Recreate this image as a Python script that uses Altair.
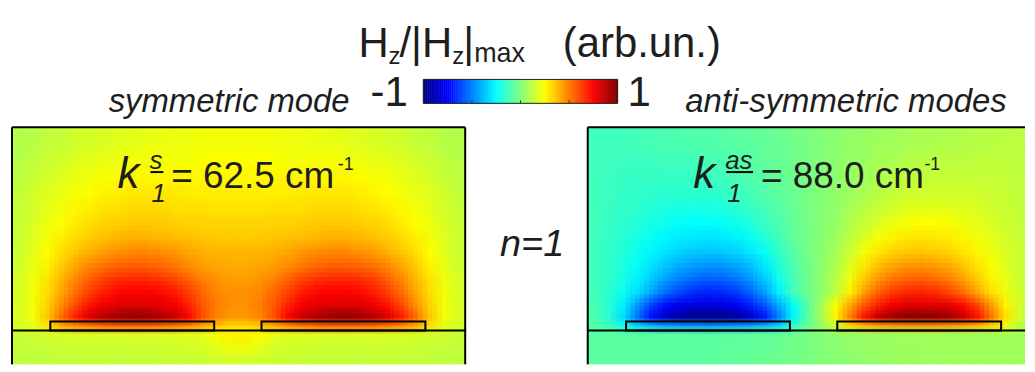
import altair as alt
import numpy as np
import pandas as pd

# ---------------- data ----------------
# Hz/|Hz|max, rows top (y=204) to bottom (y=-34), 32 columns left->right
sym_field = [
    [0.10,0.11,0.13,0.14,0.16,0.17,0.18,0.19,0.20,0.21,0.21,0.22,0.22,0.23,0.23,0.23, 0.23,0.23,0.23,0.22,0.22,0.21,0.21,0.20,0.19,0.18,0.17,0.16,0.14,0.13,0.11,0.10],
    [0.11,0.13,0.15,0.17,0.19,0.20,0.21,0.22,0.23,0.24,0.24,0.24,0.24,0.25,0.25,0.25, 0.25,0.25,0.25,0.24,0.24,0.24,0.24,0.23,0.22,0.21,0.20,0.19,0.17,0.15,0.13,0.11],
    [0.12,0.14,0.17,0.19,0.21,0.23,0.24,0.25,0.26,0.26,0.26,0.26,0.26,0.26,0.26,0.26, 0.26,0.26,0.26,0.26,0.26,0.26,0.26,0.26,0.25,0.24,0.23,0.21,0.19,0.17,0.14,0.12],
    [0.13,0.16,0.19,0.21,0.23,0.25,0.27,0.28,0.29,0.29,0.29,0.29,0.28,0.28,0.28,0.28, 0.28,0.28,0.28,0.28,0.29,0.29,0.29,0.29,0.28,0.27,0.25,0.23,0.21,0.19,0.16,0.13],
    [0.14,0.17,0.20,0.23,0.26,0.28,0.30,0.31,0.32,0.32,0.32,0.31,0.31,0.31,0.30,0.30, 0.30,0.30,0.31,0.31,0.31,0.32,0.32,0.32,0.31,0.30,0.28,0.26,0.23,0.20,0.17,0.14],
    [0.14,0.18,0.22,0.25,0.28,0.31,0.33,0.34,0.35,0.35,0.35,0.34,0.33,0.33,0.33,0.33, 0.33,0.33,0.33,0.33,0.34,0.35,0.35,0.35,0.34,0.33,0.31,0.28,0.25,0.22,0.18,0.14],
    [0.15,0.19,0.23,0.28,0.32,0.35,0.37,0.39,0.40,0.40,0.39,0.38,0.37,0.36,0.35,0.35, 0.35,0.35,0.36,0.37,0.38,0.39,0.40,0.40,0.39,0.37,0.35,0.32,0.28,0.23,0.19,0.15],
    [0.15,0.20,0.25,0.31,0.36,0.40,0.44,0.46,0.48,0.48,0.47,0.45,0.42,0.40,0.39,0.39, 0.39,0.39,0.40,0.42,0.45,0.47,0.48,0.48,0.46,0.44,0.40,0.36,0.31,0.25,0.20,0.15],
    [0.16,0.21,0.27,0.35,0.42,0.48,0.52,0.55,0.56,0.56,0.54,0.51,0.47,0.44,0.42,0.41, 0.41,0.42,0.44,0.47,0.51,0.54,0.56,0.56,0.55,0.52,0.48,0.42,0.35,0.27,0.21,0.16],
    [0.17,0.22,0.30,0.39,0.48,0.56,0.62,0.66,0.67,0.67,0.65,0.61,0.55,0.49,0.46,0.44, 0.44,0.46,0.49,0.55,0.61,0.65,0.67,0.67,0.66,0.62,0.56,0.48,0.39,0.30,0.22,0.17],
    [0.17,0.23,0.31,0.42,0.53,0.62,0.69,0.73,0.75,0.75,0.73,0.69,0.62,0.54,0.48,0.46, 0.46,0.48,0.54,0.62,0.69,0.73,0.75,0.75,0.73,0.69,0.62,0.53,0.42,0.31,0.23,0.17],
    [0.18,0.23,0.33,0.47,0.60,0.71,0.77,0.80,0.81,0.81,0.79,0.76,0.68,0.57,0.50,0.46, 0.46,0.50,0.57,0.68,0.76,0.79,0.81,0.81,0.80,0.77,0.71,0.60,0.47,0.33,0.23,0.18],
    [0.18,0.23,0.36,0.53,0.69,0.81,0.89,0.93,0.95,0.94,0.91,0.85,0.74,0.59,0.49,0.45, 0.45,0.49,0.59,0.74,0.85,0.91,0.94,0.95,0.93,0.89,0.81,0.69,0.53,0.36,0.23,0.18],
    [0.17,0.20,0.30,0.42,0.48,0.52,0.55,0.56,0.57,0.56,0.55,0.52,0.48,0.42,0.36,0.32, 0.32,0.36,0.42,0.48,0.52,0.55,0.56,0.57,0.56,0.55,0.52,0.48,0.42,0.30,0.20,0.17],
    [0.14,0.15,0.16,0.17,0.17,0.18,0.18,0.18,0.18,0.18,0.18,0.18,0.19,0.20,0.24,0.27, 0.27,0.24,0.20,0.19,0.18,0.18,0.18,0.18,0.18,0.18,0.18,0.17,0.17,0.16,0.15,0.14],
    [0.13,0.14,0.14,0.15,0.15,0.15,0.15,0.15,0.15,0.15,0.15,0.16,0.16,0.17,0.20,0.22, 0.22,0.20,0.17,0.16,0.16,0.15,0.15,0.15,0.15,0.15,0.15,0.15,0.15,0.14,0.14,0.13],
    [0.12,0.13,0.13,0.14,0.14,0.14,0.14,0.14,0.14,0.14,0.14,0.14,0.15,0.15,0.16,0.17, 0.17,0.16,0.15,0.15,0.14,0.14,0.14,0.14,0.14,0.14,0.14,0.14,0.14,0.13,0.13,0.12],
]

asym_field = [
    [-0.12,-0.12,-0.12,-0.11,-0.11,-0.10,-0.10,-0.09,-0.09,-0.08,-0.07,-0.06,-0.05,-0.04,-0.02,-0.01, 0.01,0.02,0.04,0.05,0.06,0.07,0.08,0.09,0.09,0.10,0.10,0.11,0.11,0.12,0.12,0.12],
    [-0.12,-0.12,-0.13,-0.13,-0.13,-0.12,-0.12,-0.12,-0.11,-0.10,-0.09,-0.08,-0.06,-0.05,-0.03,-0.01, 0.01,0.03,0.05,0.06,0.08,0.09,0.10,0.11,0.12,0.12,0.12,0.13,0.13,0.13,0.12,0.12],
    [-0.12,-0.13,-0.14,-0.14,-0.14,-0.14,-0.14,-0.14,-0.13,-0.12,-0.11,-0.09,-0.07,-0.05,-0.03,-0.01, 0.01,0.03,0.05,0.07,0.09,0.11,0.12,0.13,0.14,0.14,0.14,0.14,0.14,0.14,0.13,0.12],
    [-0.12,-0.13,-0.14,-0.15,-0.16,-0.16,-0.16,-0.16,-0.16,-0.15,-0.13,-0.11,-0.09,-0.06,-0.04,-0.01, 0.01,0.04,0.06,0.09,0.11,0.13,0.15,0.16,0.16,0.16,0.16,0.16,0.15,0.14,0.13,0.12],
    [-0.12,-0.13,-0.15,-0.16,-0.18,-0.19,-0.20,-0.20,-0.20,-0.19,-0.17,-0.14,-0.11,-0.08,-0.04,-0.01, 0.01,0.04,0.08,0.11,0.14,0.17,0.19,0.20,0.20,0.20,0.19,0.18,0.16,0.15,0.13,0.12],
    [-0.12,-0.14,-0.16,-0.18,-0.20,-0.22,-0.24,-0.25,-0.25,-0.24,-0.22,-0.18,-0.14,-0.10,-0.05,-0.02, 0.02,0.05,0.10,0.14,0.18,0.22,0.24,0.25,0.25,0.24,0.22,0.20,0.18,0.16,0.14,0.12],
    [-0.12,-0.14,-0.17,-0.20,-0.23,-0.26,-0.28,-0.29,-0.30,-0.29,-0.27,-0.23,-0.18,-0.12,-0.06,-0.02, 0.02,0.06,0.12,0.18,0.23,0.27,0.29,0.30,0.29,0.28,0.26,0.23,0.20,0.17,0.14,0.12],
    [-0.12,-0.15,-0.18,-0.22,-0.26,-0.30,-0.33,-0.35,-0.36,-0.35,-0.33,-0.29,-0.23,-0.15,-0.08,-0.02, 0.02,0.08,0.15,0.23,0.29,0.33,0.35,0.36,0.35,0.33,0.30,0.26,0.22,0.18,0.15,0.12],
    [-0.12,-0.15,-0.19,-0.24,-0.30,-0.36,-0.41,-0.44,-0.46,-0.45,-0.42,-0.37,-0.29,-0.19,-0.09,-0.03, 0.03,0.09,0.19,0.29,0.37,0.42,0.45,0.46,0.44,0.41,0.36,0.30,0.24,0.19,0.15,0.12],
    [-0.12,-0.15,-0.20,-0.27,-0.35,-0.43,-0.50,-0.54,-0.56,-0.55,-0.52,-0.45,-0.35,-0.22,-0.11,-0.03, 0.03,0.11,0.22,0.35,0.45,0.52,0.55,0.56,0.54,0.50,0.43,0.35,0.27,0.20,0.15,0.12],
    [-0.12,-0.16,-0.22,-0.31,-0.42,-0.53,-0.61,-0.66,-0.68,-0.67,-0.63,-0.55,-0.43,-0.27,-0.12,-0.03, 0.03,0.12,0.27,0.43,0.55,0.63,0.67,0.68,0.66,0.61,0.53,0.42,0.31,0.22,0.16,0.12],
    [-0.10,-0.17,-0.27,-0.44,-0.61,-0.72,-0.78,-0.80,-0.81,-0.80,-0.76,-0.68,-0.57,-0.41,-0.24,-0.08, 0.08,0.24,0.41,0.57,0.68,0.76,0.80,0.81,0.80,0.78,0.72,0.61,0.44,0.27,0.17,0.10],
    [-0.10,-0.17,-0.31,-0.52,-0.72,-0.85,-0.93,-0.96,-0.97,-0.96,-0.93,-0.85,-0.70,-0.49,-0.26,-0.08, 0.08,0.26,0.49,0.70,0.85,0.93,0.96,0.97,0.96,0.93,0.85,0.72,0.52,0.31,0.17,0.10],
    [-0.08,-0.12,-0.22,-0.32,-0.38,-0.42,-0.44,-0.45,-0.45,-0.45,-0.44,-0.42,-0.38,-0.32,-0.15,-0.05, 0.05,0.15,0.32,0.38,0.42,0.44,0.45,0.45,0.45,0.44,0.42,0.38,0.32,0.22,0.12,0.08],
    [-0.07,-0.07,-0.07,-0.07,-0.07,-0.07,-0.07,-0.07,-0.07,-0.07,-0.06,-0.06,-0.05,-0.04,-0.03,-0.01, 0.01,0.03,0.04,0.05,0.06,0.06,0.07,0.07,0.07,0.07,0.07,0.07,0.07,0.07,0.07,0.07],
    [-0.07,-0.07,-0.07,-0.07,-0.07,-0.07,-0.07,-0.07,-0.07,-0.06,-0.06,-0.05,-0.05,-0.04,-0.02,-0.01, 0.01,0.02,0.04,0.05,0.05,0.06,0.06,0.07,0.07,0.07,0.07,0.07,0.07,0.07,0.07,0.07],
    [-0.07,-0.07,-0.07,-0.07,-0.07,-0.07,-0.07,-0.07,-0.06,-0.06,-0.06,-0.05,-0.04,-0.03,-0.02,-0.01, 0.01,0.02,0.03,0.04,0.05,0.06,0.06,0.06,0.07,0.07,0.07,0.07,0.07,0.07,0.07,0.07],
]

# grid of the field samples (panel coordinates, substrate surface at y = 0)
x_edges = [float(v) for v in np.linspace(-227, 228, 33)]
y_edges = [204, 180, 162, 146, 130, 115, 100, 86, 72, 58, 45, 32, 20, 9, 0, -12, -24, -34]

# metal strips on the substrate
strip_x0 = [-188.5, 23.5]
strip_x1 = [-24.0, 188.0]
strip_y0 = [0.0, 0.0]
strip_y1 = [9.0, 9.0]
substrate_y = [0.0]

# colour bar
cbar_levels = [float(v) for v in np.linspace(-1, 1, 97)]
cbar_ticks = [-0.5, 0.0, 0.5]
jet_domain = [-1.0, -0.75, -0.25, 0.25, 0.75, 1.0]
jet_range = ["#00007f", "#0000ff", "#00ffff", "#ffff00", "#ff0000", "#7f0000"]

# texts
title_parts = ["H", "z", "/|H", "z", "|", "max", "(arb.un.)"]
cbar_min_label = "-1"
cbar_max_label = "1"
left_caption = "symmetric mode"
right_caption = "anti-symmetric modes"
k_sym = ["k", "s", "1", "= 62.5 cm", "-1"]
k_asym = ["k", "as", "1", "= 88.0 cm", "-1"]
order_label = "n=1"

# ---------------- chart ----------------
FONT = "Liberation Sans, Arial, sans-serif"
INK = "#1e1e1e"
LEFT_W, RIGHT_W, PANEL_H = 455, 439, 238
# sub-cell shifts used to shade the cells smoothly (each copy blended with equal weight)
SHADE_SHIFTS = [(0.0, 0.0), (-1/3, 0.0), (1/3, 0.0), (0.0, -1/3), (0.0, 1/3),
                (-1/3, -1/3), (1/3, -1/3), (-1/3, 1/3), (1/3, 1/3)]

cscale = alt.Scale(domain=jet_domain, range=jet_range, interpolate="rgb", clamp=True)
ys = alt.Scale(domain=[-34, 204], nice=False, zero=False)
dummy = pd.DataFrame({"d": [0]})


def label(txt, x, y, size, italic=False, align="left"):
    return alt.Chart(pd.DataFrame({"t": [txt]})).mark_text(
        align=align, baseline="alphabetic", fontSize=size, font=FONT,
        fontStyle="italic" if italic else "normal", color=INK
    ).encode(text="t:N", x=alt.value(x), y=alt.value(y))


def hline(x0, x1, y, w=2):
    return alt.Chart(dummy).mark_rule(color="black", strokeWidth=w).encode(
        x=alt.value(x0), x2=alt.value(x1), y=alt.value(y))


def vline(x, y0, y1, w=2):
    return alt.Chart(dummy).mark_rule(color="black", strokeWidth=w).encode(
        x=alt.value(x), y=alt.value(y0), y2=alt.value(y1))


def field_frame(field):
    rows = []
    for r, row in enumerate(field):
        for c, v in enumerate(row):
            rows.append({"x0": x_edges[c], "x1": x_edges[c + 1],
                         "y0": y_edges[r + 1], "y1": y_edges[r], "v": v})
    return pd.DataFrame(rows)


def heat_layers(frame, xs):
    out = []
    for k, (fx, fy) in enumerate(SHADE_SHIFTS):
        ch = alt.Chart(frame).transform_calculate(
            a=f"datum.x0 + ({fx})*(datum.x1 - datum.x0)",
            b=f"datum.x1 + ({fx})*(datum.x1 - datum.x0)",
            c=f"datum.y0 + ({fy})*(datum.y1 - datum.y0)",
            d=f"datum.y1 + ({fy})*(datum.y1 - datum.y0)",
        )
        if k == 0:
            mk = ch.mark_rect(strokeWidth=1, clip=True)
            enc = dict(stroke=alt.Stroke("v:Q", scale=cscale, legend=None))
        else:
            mk = ch.mark_rect(opacity=1.0 / (k + 1), clip=True)
            enc = {}
        out.append(mk.encode(
            x=alt.X("a:Q", scale=xs, axis=None), x2="b:Q",
            y=alt.Y("c:Q", scale=ys, axis=None), y2="d:Q",
            fill=alt.Fill("v:Q", scale=cscale, legend=None), **enc))
    return out


def panel(field, klabels, width, x_max, extra, right_border):
    xs = alt.Scale(domain=[-227, x_max], nice=False, zero=False)
    strips = alt.Chart(pd.DataFrame({"x0": strip_x0, "x1": strip_x1,
                                     "y0": strip_y0, "y1": strip_y1})).mark_rect(
        fillOpacity=0, stroke="black", strokeWidth=2, clip=True).encode(
        x=alt.X("x0:Q", scale=xs), x2="x1:Q",
        y=alt.Y("y0:Q", scale=ys), y2="y1:Q")
    substrate = alt.Chart(pd.DataFrame({"y": substrate_y})).mark_rule(
        color="black", strokeWidth=2).encode(y=alt.Y("y:Q", scale=ys))
    k, sup, sub, rest, exp = klabels
    wide = len(sup) > 1
    kx = 106
    sup_w = 27 if wide else 13
    layers = heat_layers(field_frame(field), xs) + [
        strips, substrate,
        vline(0, 0, PANEL_H), hline(0, width, 0),
        label(k, kx, 61, 44, italic=True),
        label(sup, kx + 32, 42, 26, italic=True),
        hline(kx + 33, kx + 33 + sup_w, 45, 2),
        label(sub, kx + 34, 75, 26, italic=True),
        label(rest, kx + (68 if wide else 54), 61, 37),
        label(exp, kx + (232 if wide else 221), 43, 18)]
    if right_border:
        layers.append(vline(width, 0, PANEL_H))
    layers += extra
    return alt.layer(*layers).properties(width=width, height=PANEL_H)


left = panel(sym_field, k_sym, LEFT_W, 228, [label(order_label, 490, 129, 38, italic=True)], True)
right = panel(asym_field, k_asym, RIGHT_W, 212, [], False)

# header: title, colour bar and captions (header x = page x - 10, y = page y - 8)
cbx = alt.Scale(domain=[-1, 1], range=[413, 608], nice=False, zero=False)
cbar_df = pd.DataFrame({"lo": cbar_levels[:-1], "hi": cbar_levels[1:],
                        "v": [(a + b) / 2 for a, b in zip(cbar_levels[:-1], cbar_levels[1:])]})
cbar = alt.Chart(cbar_df).mark_rect(strokeWidth=0.6).encode(
    x=alt.X("lo:Q", scale=cbx, axis=None), x2="hi:Q",
    y=alt.value(70), y2=alt.value(94),
    fill=alt.Fill("v:Q", scale=cscale, legend=None),
    stroke=alt.Stroke("v:Q", scale=cscale, legend=None),
)
cbar_box = alt.Chart(pd.DataFrame({"lo": [cbar_levels[0]], "hi": [cbar_levels[-1]]})).mark_rect(
    fillOpacity=0, stroke="#222222", strokeWidth=1).encode(
    x=alt.X("lo:Q", scale=cbx), x2="hi:Q", y=alt.value(70), y2=alt.value(94))
cbar_tk = alt.Chart(pd.DataFrame({"t": cbar_ticks})).mark_rule(color="#333333", strokeWidth=1).encode(
    x=alt.X("t:Q", scale=cbx), y=alt.value(91), y2=alt.value(94))

header = alt.layer(
    cbar, cbar_box, cbar_tk,
    label(title_parts[0], 348, 47, 42),
    label(title_parts[1], 378, 55, 24),
    label(title_parts[2], 389, 47, 42),
    label(title_parts[3], 442, 55, 24),
    label(title_parts[4], 453, 47, 42),
    label(title_parts[5], 464, 53, 27),
    label(title_parts[6], 553, 47, 42),
    label(cbar_min_label, 360, 97, 42),
    label(cbar_max_label, 618, 97, 42),
    label(left_caption, 339, 103, 33, italic=True, align="right"),
    label(right_caption, 676, 103, 33, italic=True),
).properties(width=1015, height=118)

chart = alt.vconcat(
    header,
    alt.hconcat(left, right, spacing=123, bounds="flush"),
    spacing=0, bounds="flush",
).properties(
    padding={"left": 2, "top": 0, "right": 0, "bottom": 0}
).configure_view(stroke="transparent")

chart.save("out.html", embed_options={"renderer": "svg", "actions": False})
